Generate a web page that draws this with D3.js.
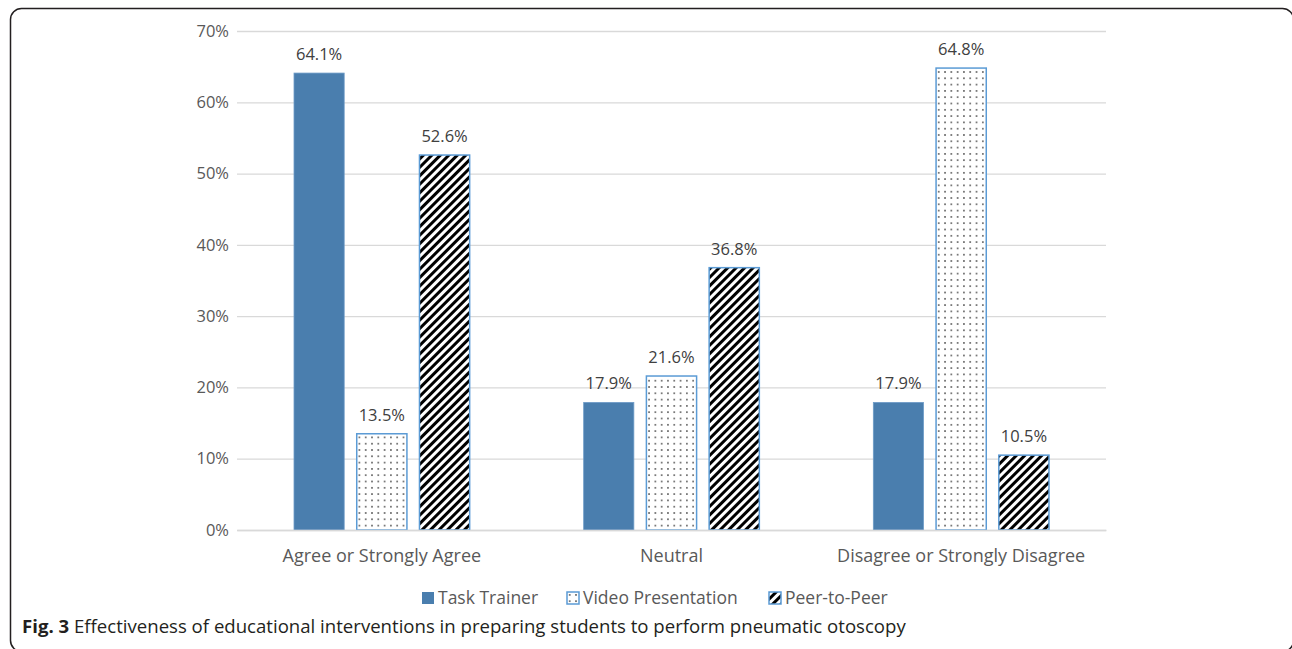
<!DOCTYPE html>
<html><head><meta charset="utf-8">
<script src="https://cdn.jsdelivr.net/npm/d3@7/dist/d3.min.js"></script>
<style>body{margin:0;background:#fff;}svg{display:block;font-family:"Open Sans",sans-serif;}</style>
</head><body>
<svg id="chart" width="1292" height="649"></svg>
<script>
const categories = ["Agree or Strongly Agree", "Neutral", "Disagree or Strongly Disagree"];
const seriesNames = ["Task Trainer", "Video Presentation", "Peer-to-Peer"];
const taskTrainer = [64.1, 17.9, 17.9];
const videoPresentation = [13.5, 21.6, 64.8];
const peerToPeer = [52.6, 36.8, 10.5];
const yTicks = [0, 10, 20, 30, 40, 50, 60, 70];
const seriesValues = [taskTrainer, videoPresentation, peerToPeer];

(function(){
const svg = d3.select("#chart");
const defs = svg.append("defs");
// dotted pattern
const dp = defs.append("pattern").attr("id","dots").attr("patternUnits","userSpaceOnUse")
  .attr("width",6.3).attr("height",6.3);
dp.append("rect").attr("width",6.3).attr("height",6.3).attr("fill","#fff");
dp.append("rect").attr("x",2).attr("y",2).attr("width",1.4).attr("height",1.4).attr("fill","#222");
// striped pattern
const sp = defs.append("pattern").attr("id","stripes").attr("patternUnits","userSpaceOnUse")
  .attr("width",6).attr("height",6).attr("patternTransform","rotate(45)");
sp.append("rect").attr("width",6).attr("height",6).attr("fill","#fff");
sp.append("rect").attr("width",3).attr("height",6).attr("fill","#000");

const fills = ["#4A7EAE", "url(#dots)", "url(#stripes)"];
const strokes = ["#6E9CC8", "#5B9BD5", "#5B9BD5"];

const mLeft = 237, mRight = 1106, mTop = 31, mBottom = 530;
const y = d3.scaleLinear().domain([0,70]).range([mBottom, mTop]);
const x0 = d3.scaleBand().domain(categories).range([mLeft, mRight]).padding(0);
const x1 = d3.scaleBand().domain(seriesNames).range([57, x0.bandwidth()-57]).paddingInner(0.2).paddingOuter(0);

// gridlines
const yAxis = d3.axisLeft(y).tickValues(yTicks).tickFormat(d => d + "%").tickSize(-(mRight-mLeft)).tickPadding(8);
const ga = svg.append("g").attr("transform", `translate(${mLeft},0)`).call(yAxis);
ga.select(".domain").remove();
ga.selectAll(".tick line").attr("stroke","#d9d9d9").attr("stroke-width",1.3);
ga.selectAll(".tick text").attr("fill","#595959").attr("font-size","16.5px").attr("font-family","Open Sans");

// bars
const groups = svg.append("g").selectAll("g").data(categories).join("g")
  .attr("transform", d => `translate(${x0(d)},0)`);
seriesNames.forEach((s, si) => {
  groups.append("rect")
    .attr("x", x1(s)).attr("width", x1.bandwidth())
    .attr("y", (d,i) => y(seriesValues[si][i]))
    .attr("height", (d,i) => mBottom - y(seriesValues[si][i]))
    .attr("fill", fills[si]).attr("stroke", strokes[si]).attr("stroke-width", si===0?0.8:1.5);
  groups.append("text")
    .attr("x", x1(s) + x1.bandwidth()/2)
    .attr("y", (d,i) => y(seriesValues[si][i]) - 13)
    .attr("text-anchor","middle").attr("fill","#404040").attr("font-size","16.5px")
    .text((d,i) => seriesValues[si][i].toFixed(1) + "%");
});

// x axis
const xAxis = d3.axisBottom(x0).tickSize(0).tickPadding(19);
const gx = svg.append("g").attr("transform", `translate(0,${mBottom})`).call(xAxis);
gx.select(".domain").attr("stroke","#d9d9d9").attr("stroke-width",1.3);
gx.selectAll(".tick text").attr("fill","#595959").attr("font-size","18px").attr("font-family","Open Sans");

// legend
const legendX = [422, 567, 769];
const lg = svg.append("g");
seriesNames.forEach((s, i) => {
  lg.append("rect").attr("x", legendX[i]).attr("y", 592).attr("width", 12).attr("height", 12)
    .attr("fill", fills[i]).attr("stroke", strokes[i]).attr("stroke-width", i===0?0:1.5);
  lg.append("text").attr("x", legendX[i] + 16).attr("y", 598).attr("dy","0.35em")
    .attr("fill","#595959").attr("font-size","17.5px").text(s);
});

// caption
const cap = svg.append("text").attr("x", 22).attr("y", 633).attr("font-size","18.6px").attr("fill","#231f20");
cap.append("tspan").attr("font-weight","bold").text("Fig. 3");
cap.append("tspan").text(" Effectiveness of educational interventions in preparing students to perform pneumatic otoscopy");

// frame
svg.append("rect").attr("x",10.5).attr("y",8.5).attr("width",1283).attr("height",643).attr("rx",11)
  .attr("fill","none").attr("stroke","#231f20").attr("stroke-width",1.5);
})();
</script>
</body></html>
